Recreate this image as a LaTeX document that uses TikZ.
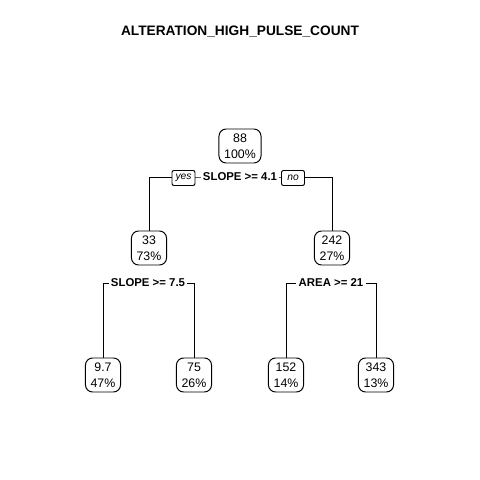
\documentclass[tikz,border=0pt]{standalone}
\usepackage{fontspec}
\setmainfont{Liberation Sans}
\begin{document}
\begin{tikzpicture}[x=0.25mm, y=-0.25mm, line width=0.7pt,
    treebox/.style={draw, rounded corners=1.8mm, align=center, inner xsep=1.3mm,
        inner ysep=0pt, minimum height=8.5mm, font=\fontsize{8.8}{11.4}\selectfont},
    splitlabel/.style={fill=white, inner sep=0.6mm, font=\fontsize{8.1}{10}\selectfont\bfseries},
    branchtag/.style={draw, fill=white, rounded corners=0.5mm, inner xsep=0.5mm, inner ysep=0.3mm,
        minimum width=5.75mm, minimum height=3.75mm, font=\fontsize{7.3}{8}\selectfont\itshape}]
    \useasboundingbox[fill=white] (0,0) rectangle (480,480);

    \node[font=\fontsize{9.75}{12}\selectfont\bfseries] (title) at (240,32) {ALTERATION\_HIGH\_PULSE\_COUNT};

    % root and first level
    \node[treebox] (root) at (240,146) {88\\100\%};
    \node[treebox] (n33) at (149,248) {33\\73\%};
    \node[treebox] (n242) at (332,248) {242\\27\%};

    % leaves
    \foreach \name/\x/\val/\pct in {n97/103/9.7/47, n75/194/75/26, n152/286/152/14, n343/376/343/13}
        \node[treebox] (\name) at (\x,375) {\val\\\pct\%};

    % splits
    \coordinate (c1) at (240,177);
    \coordinate (c2) at (148,283);
    \coordinate (c3) at (331,283);
    \draw (n33.north) |- (c1) -| (n242.north);
    \draw (n97.north) |- (c2) -| (n75.north);
    \draw (n152.north) |- (c3) -| (n343.north);

    \node[splitlabel] (s1) at (c1) {SLOPE >= 4.1};
    \node[splitlabel] (s2) at (c2) {SLOPE >= 7.5};
    \node[splitlabel] (s3) at (c3) {AREA >= 21};

    \node[branchtag] (yes) at (183.5,178) {yes};
    \node[branchtag] (no) at (293,178) {no};
\end{tikzpicture}
\end{document}
